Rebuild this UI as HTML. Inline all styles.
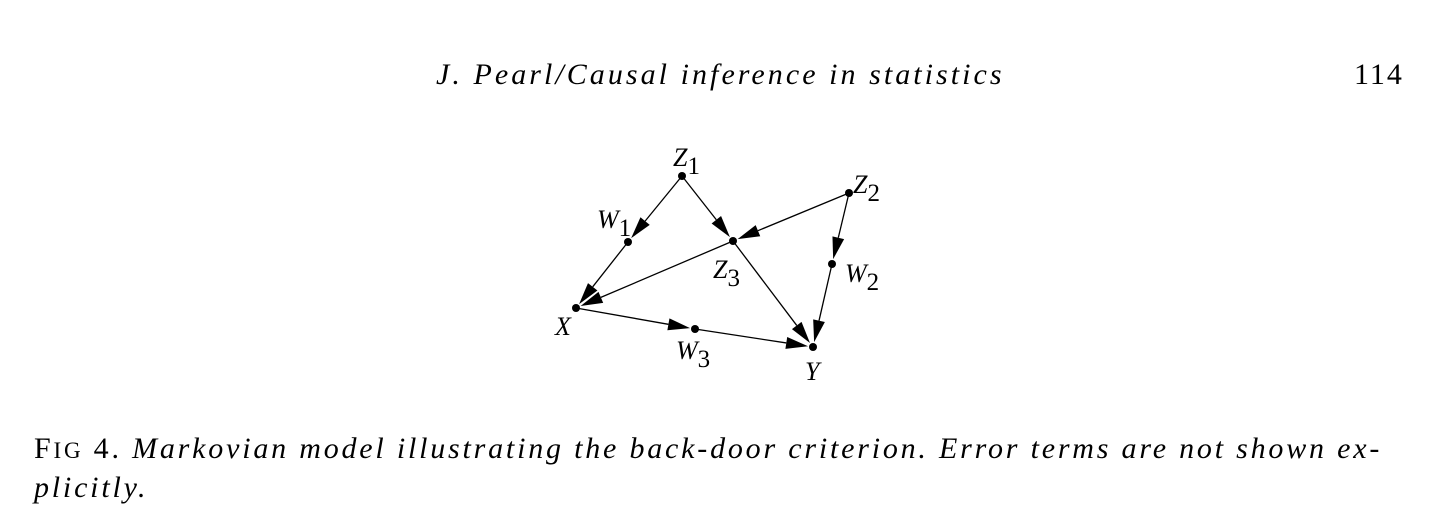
<!DOCTYPE html>
<html><head><meta charset="utf-8"><style>
html,body{margin:0;padding:0;background:#fff;}
body{width:1442px;height:522px;position:relative;overflow:hidden;font-family:"Liberation Serif",serif;}
.t{position:absolute;white-space:nowrap;color:#000;}
</style></head><body>
<div class="t" style="left:436px;top:58px;font-size:30px;font-style:italic;letter-spacing:3.05px;">J. Pearl/Causal inference in statistics</div>
<div class="t" style="left:1354px;top:58px;font-size:30px;letter-spacing:2px;">114</div>
<svg width="1442" height="522" style="position:absolute;left:0;top:0" id="g"></svg>
<div class="t" style="left:34px;top:430px;font-size:30px;letter-spacing:2.8px;line-height:37px;">
<span style="font-style:normal">F<span style="font-size:23px">IG</span> 4.</span> <i>Markovian model illustrating the back-door criterion. Error terms are not shown ex-</i><br><i>plicitly.</i></div>
<script>
const nodeNames=["Z1","W1","Z3","Z2","W2","X","W3","Y"];
const nodeX=[682,628,733,849,832,576,695,813];
const nodeY=[176,242,241,193,264,308,329,347];
const edges=[["Z1","W1"],["Z1","Z3"],["Z2","Z3"],["Z2","W2"],["W1","X"],["Z3","X"],["Z3","Y"],["W2","Y"],["X","W3"],["W3","Y"]];
const labels=[["Z","1",673,166],["W","1",597,228],["Z","3",713,278],["Z","2",853,193],["W","2",845,282],["X","",555,335],["W","3",676,359],["Y","",805,380]];
const svg=document.getElementById('g');const NS="http://www.w3.org/2000/svg";
const idx=n=>nodeNames.indexOf(n);
edges.forEach(e=>{const a=idx(e[0]),b=idx(e[1]);
 const x1=nodeX[a],y1=nodeY[a],x2=nodeX[b],y2=nodeY[b];
 const dx=x2-x1,dy=y2-y1,L=Math.hypot(dx,dy),ux=dx/L,uy=dy/L;
 const tx=x2-ux*5,ty=y2-uy*5,bx=tx-ux*22,by=ty-uy*22;
 const l=document.createElementNS(NS,'line');
 
 
 l.setAttribute('x1',x1);l.setAttribute('y1',y1);l.setAttribute('x2',bx);l.setAttribute('y2',by);
 l.setAttribute('stroke','#000');l.setAttribute('stroke-width','1.3');svg.appendChild(l);
 const p=document.createElementNS(NS,'polygon');
 
 
 p.setAttribute('points',`${tx},${ty} ${bx-uy*6},${by+ux*6} ${bx+uy*6},${by-ux*6}`);
 svg.appendChild(p);});
nodeNames.forEach((n,i)=>{const c=document.createElementNS(NS,'circle');
 
 
 c.setAttribute('cx',nodeX[i]);c.setAttribute('cy',nodeY[i]);c.setAttribute('r',4);svg.appendChild(c);});
labels.forEach(l=>{const t=document.createElementNS(NS,'text');
 
 
 t.setAttribute('x',l[2]);t.setAttribute('y',l[3]);
 t.setAttribute('font-family','Liberation Serif, serif');t.setAttribute('font-size','26');
 t.innerHTML=`<tspan font-style="italic">${l[0]}</tspan>`+(l[1]?`<tspan dy="8" font-size="25">${l[1]}</tspan>`:'');
 svg.appendChild(t);});
</script>
</body></html>
